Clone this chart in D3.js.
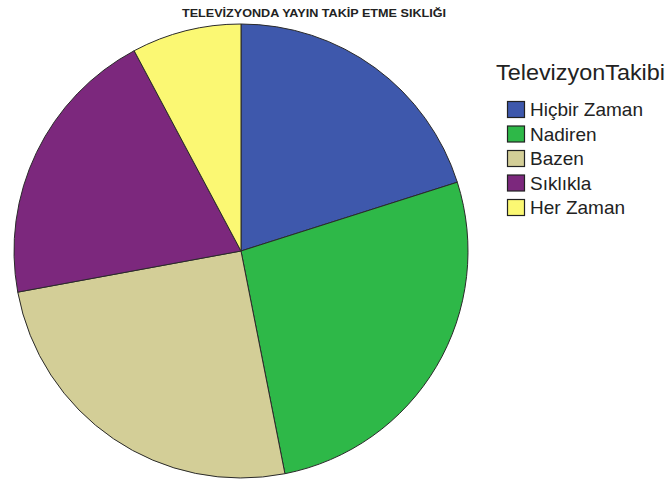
<!DOCTYPE html>
<html>
<head>
<meta charset="utf-8">
<script src="https://cdn.jsdelivr.net/npm/d3@7"></script>
<style>
  html, body { margin: 0; padding: 0; background: #fff; }
  svg { display: block; }
</style>
</head>
<body>
<svg id="chart" width="667" height="484"></svg>
<script>
// Response categories and their shares (%)
const categories = ["Hiçbir Zaman", "Nadiren", "Bazen", "Sıklıkla", "Her Zaman"];
const values = [20.1, 26.8, 25.2, 20.1, 7.8];
const colors = ["#3E58AC", "#2EB848", "#D3CE97", "#7C287D", "#FBF873"];
const chartTitle = "TELEVİZYONDA YAYIN TAKİP ETME SIKLIĞI";
const legendTitle = "TelevizyonTakibi";

const svg = d3.select("#chart");
const cx = 241, cy = 251, radius = 227;

const data = categories.map((c, i) => ({ category: c, value: values[i] }));

const color = d3.scaleOrdinal().domain(categories).range(colors);

const pie = d3.pie()
  .value(d => d.value)
  .sort(null)
  .startAngle(0)
  .endAngle(2 * Math.PI);

const arc = d3.arc().innerRadius(0).outerRadius(radius);

// Title
svg.append("text")
  .attr("x", 314)
  .attr("y", 17)
  .attr("text-anchor", "middle")
  .attr("font-family", "'Liberation Sans', Arial, sans-serif")
  .attr("font-weight", "bold")
  .attr("font-size", 10.5)
  .attr("textLength", 264)
  .attr("lengthAdjust", "spacingAndGlyphs")
  .attr("fill", "#222")
  .text(chartTitle);

// Slices
svg.append("g")
  .attr("transform", `translate(${cx},${cy})`)
  .selectAll("path")
  .data(pie(data))
  .join("path")
  .attr("d", arc)
  .attr("fill", d => color(d.data.category))
  .attr("stroke", "#2a2a2a")
  .attr("stroke-width", 1)
  .attr("stroke-linejoin", "round");

// Legend
const legend = svg.append("g").attr("transform", "translate(0,0)");

legend.append("text")
  .attr("x", 496)
  .attr("y", 80)
  .attr("font-family", "'Liberation Sans', Arial, sans-serif")
  .attr("font-size", 22.5)
  .attr("textLength", 169)
  .attr("lengthAdjust", "spacingAndGlyphs")
  .attr("fill", "#222")
  .text(legendTitle);

const rowY = d3.scalePoint().domain(categories).range([101, 199]);

const rows = legend.selectAll("g.row")
  .data(categories)
  .join("g")
  .attr("class", "row")
  .attr("transform", d => `translate(507,${rowY(d)})`);

rows.append("rect")
  .attr("x", 0.5)
  .attr("y", 0.5)
  .attr("width", 17)
  .attr("height", 16)
  .attr("fill", d => color(d))
  .attr("stroke", "#222")
  .attr("stroke-width", 1.2);

rows.append("text")
  .attr("x", 23)
  .attr("y", 15)
  .attr("font-family", "'Liberation Sans', Arial, sans-serif")
  .attr("font-size", 19)
  .attr("fill", "#222")
  .text(d => d);
</script>
</body>
</html>
